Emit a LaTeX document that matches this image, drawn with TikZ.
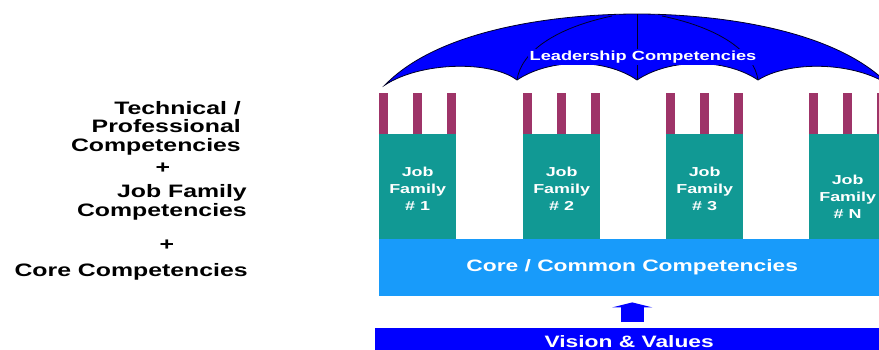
\documentclass[tikz,border=0pt]{standalone}
\usepackage{fontspec}
\newfontfamily\widesans[FakeStretch=1.38]{Liberation Sans}
\usetikzlibrary{arrows.meta}
\definecolor{postred}{RGB}{158,52,104}
\definecolor{jobteal}{RGB}{17,153,148}
\definecolor{coreblue}{RGB}{24,155,250}
\definecolor{visionblue}{RGB}{0,0,255}

\begin{document}
\begin{tikzpicture}[x=1pt,y=-1pt,
	lefttext/.style={font=\widesans\bfseries\fontsize{18}{18.5}\selectfont,align=right,inner sep=0pt},
	boxtext/.style={text=white,font=\widesans\bfseries\fontsize{#1}{17}\selectfont,align=center,inner sep=0pt},
	jobbox/.style={fill=jobteal,minimum width=77pt,minimum height=105pt,inner sep=0pt,anchor=north west},
	rib/.style={draw=black!85!blue,line width=0.8pt}]
	\useasboundingbox (0,0) rectangle (879,349);
	\clip (0,0) rectangle (879,349);
	\fill[white] (0,0) rectangle (879,349);
	\node[lefttext,anchor=east] (tech) at (241,128) {Technical /\\Professional\\Competencies};
	\node[lefttext] (plusa) at (163,168) {+};
	\node[lefttext,anchor=east] (jobfam) at (247,202.5) {Job Family\\Competencies};
	\node[lefttext] (plusb) at (167,245) {+};
	\node[lefttext,anchor=east] (corecomp) at (248,272) {Core Competencies};
	\fill[visionblue,draw=black!85!blue,line width=0.8pt] (385,85) .. controls (440,28) and (560,14) .. (637,14) .. controls (714,14) and (834,28) .. (889,85) .. controls (855,62) and (790,60) .. (758,80) .. controls (725,58) and (670,58) .. (637,80) .. controls (605,58) and (550,58) .. (517,80) .. controls (490,60) and (420,62) .. (385,85) -- cycle;
	\draw[rib] (637,14) -- (637,80);
	\draw[rib] (517,80) .. controls (521,52) and (555,28) .. (612,16);
	\draw[rib] (758,80) .. controls (754,52) and (720,28) .. (662,16);
	\node[boxtext=13.2,fill=visionblue,inner sep=1.5pt] (lead) at (643,57) {Leadership Competencies};
	\foreach \n/\xl/\dy in {1/379/2.5,2/523/2.5,3/666/2.5,N/809/10.5}{
		\foreach \dx in {0,34,68}{
			\fill[postred] (\xl+\dx,93) rectangle (\xl+\dx+9,134);
		}
		\node[jobbox] (jf\n) at (\xl,134) {};
		\node[boxtext=13] (jt\n) at ([yshift=-\dy pt]jf\n.center) {Job\\Family\\\# \n};
	}
	\node[fill=coreblue,minimum width=506pt,minimum height=57pt,anchor=north west,boxtext=16.5] (core) at (379,239) {Core / Common Competencies};
	\node[fill=visionblue,minimum width=508pt,minimum height=26pt,anchor=north west,boxtext=16.5] (vision) at (375,328) {Vision \& Values};
	\draw[visionblue,line width=23pt,shorten <=6pt,shorten >=6pt,-{Triangle[width=40pt,length=5pt]}] (core.south |- vision.north) -- (core.south);
\end{tikzpicture}
\end{document}
